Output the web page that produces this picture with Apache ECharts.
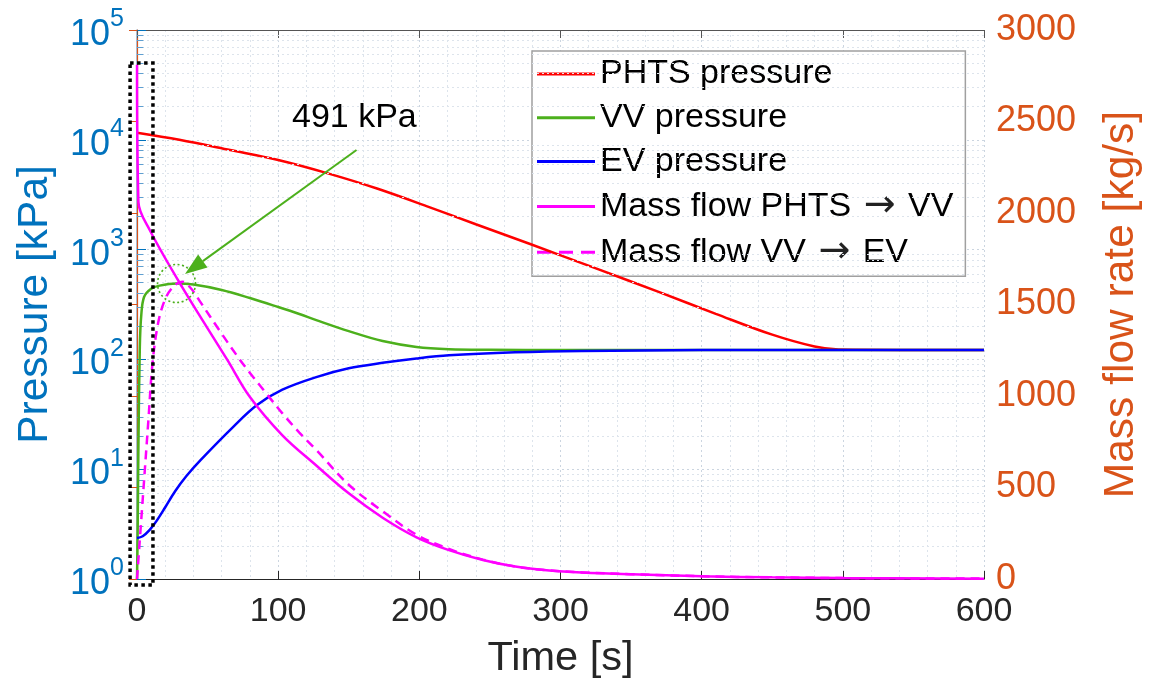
<!DOCTYPE html>
<html><head><meta charset="utf-8">
<script src="https://cdn.jsdelivr.net/npm/echarts@6/dist/echarts.min.js"></script>
<style>html,body{margin:0;padding:0;background:#fff}#c{width:1151px;height:687px}</style>
</head><body><div id="c"></div><script>
// ---- data ----
const seriesNames = ['PHTS pressure', 'VV pressure', 'EV pressure', 'Mass flow PHTS \u2192 VV', 'Mass flow VV \u2192 EV'];
const xTicks = [0, 100, 200, 300, 400, 500, 600];
const yLeftTicks = [1, 10, 100, 1000, 10000, 100000];
const yRightTicks = [0, 500, 1000, 1500, 2000, 2500, 3000];

const tPHTS = [0, 30, 66, 100, 134, 170, 207, 240, 278, 327, 370, 410, 450, 480, 497, 550, 600];
const pPHTS = [11600, 10000, 8070, 6550, 5000, 3600, 2440, 1700, 1130, 660, 410, 260, 168, 131, 123, 122, 122];

const tVV = [0, 0.5, 1, 2, 3, 5, 10, 16, 28, 40, 60, 80, 100, 115, 127, 150, 174, 198, 221, 250, 300, 400, 500, 600];
const pVV = [1, 3, 16, 130, 250, 370, 440, 470, 491, 481, 429, 362, 300, 259, 228, 181, 147, 130, 124, 122.5, 122, 122, 122, 122];

const tEV = [0, 4, 9, 14, 20, 27, 35, 45, 68, 85, 103, 127, 150, 174, 198, 221, 268, 315, 400, 500, 600];
const pEV = [2.36, 2.45, 2.8, 3.4, 4.5, 6.3, 8.67, 12.1, 24.2, 38.4, 53, 69, 83, 93, 102, 109, 116, 119.5, 121.5, 122, 122];

const tMF1 = [0, 1, 9, 32, 64, 80, 103, 127, 150, 174, 198, 221, 245, 268, 292, 315, 350, 400, 450, 500, 600];
const mMF1 = [2810, 2060, 1907, 1595, 1197, 994, 785, 620, 468, 335, 228, 158, 104, 68, 47, 36, 26, 15, 9, 5, 2];

const tMF2 = [0, 4, 8, 11, 15, 20, 26, 32, 38, 44, 60, 73, 80, 92, 103, 115, 127, 150, 174, 198, 221, 245, 268, 292, 315, 350, 400, 450, 500, 600];
const mMF2 = [0, 430, 860, 1180, 1400, 1530, 1600, 1625, 1590, 1524, 1340, 1197, 1126, 1010, 905, 800, 705, 515, 370, 242, 164, 106, 68, 47, 36, 26, 15, 9, 5, 2];

// annotation anchors in data space
const peakPoint = [28, 491];
const arrowFrom = [155.5, 8070];
const arrowTo = [34, 600];
const labelAt = [154, 15800];
const labelText = '491 kPa';
const boxCorners = [[-4.9, 50000], [11.3, 0.88]];

// log minor grid levels
const minorLevels = [];
for (let d = 0; d < 5; d++) for (let k = 2; k <= 9; k++) minorLevels.push(k * Math.pow(10, d));

const zip = (a, b) => a.map((v, i) => [v, b[i]]);
const FONT = 'Liberation Sans, Arial, Helvetica, sans-serif';
const BLUE = '#0072BD', ORANGE = '#D95319', DARK = '#262626';
const GREEN = '#4cb01c';
const solidIcon = 'path://M0,0H58V3H0Z';
const dashIcon = 'path://M0,0H14V3H0Z M22,0H36V3H22Z M44,0H58V3H44Z';

const chart = echarts.init(document.getElementById('c'), null, {renderer: 'canvas'});

const mk = (name, data, color, yIdx, dashed, z) => ({
  name, type: 'line', data, symbol: 'none', smooth: 0.35,
  yAxisIndex: yIdx, z: z,
  lineStyle: {color, width: 2.5, type: dashed ? [9, 6] : 'solid'},
  itemStyle: {color}
});

const option = {
  animation: false,
  textStyle: {fontFamily: FONT},
  grid: {left: 137, right: 166, top: 30, bottom: 108},
  legend: {
    data: seriesNames.map((n, i) => ({name: n, icon: i === 4 ? dashIcon : solidIcon})),
    orient: 'vertical', left: 532, top: 51, symbolKeepAspect: false,
    backgroundColor: '#fff', borderColor: '#a0a0a0', borderWidth: 1.5,
    padding: [5, 12, 5, 5], itemWidth: 58, itemHeight: 3, itemGap: 7.8,
    formatter: n => n.replace('\u2192', '{ar|\u2192}'),
    textStyle: {fontSize: 34, color: '#000', lineHeight: 36, fontFamily: FONT,
      rich: {ar: {fontFamily: 'DejaVu Sans', fontSize: 38, color: '#222', lineHeight: 36, padding: [0, 3, 0, 3]}}}
  },
  xAxis: [{
    type: 'value', min: 0, max: 600, interval: 100, position: 'bottom',
    name: 'Time [s]', nameLocation: 'middle', nameGap: 59,
    nameTextStyle: {fontSize: 41.5, color: DARK, fontFamily: FONT},
    axisLine: {lineStyle: {color: DARK, width: 1.2}},
    axisTick: {inside: true, length: 8, lineStyle: {color: DARK}},
    axisLabel: {fontSize: 34, color: DARK, margin: 16, fontFamily: FONT,
      formatter: v => xTicks.indexOf(v) >= 0 ? String(v) : ''},
    splitLine: {show: true, lineStyle: {color: '#cbd5e0', type: [2, 3], width: 1}},
    minorTick: {show: false, splitNumber: 5},
    minorSplitLine: {show: true, lineStyle: {color: '#dde4ec', type: [2, 3], width: 1}}
  }, {
    type: 'value', min: 0, max: 600, interval: 100, position: 'top',
    axisLine: {show: true, lineStyle: {color: '#555', width: 1}},
    axisTick: {show: true, inside: true, length: 8, lineStyle: {color: '#555'}},
    axisLabel: {show: false}, splitLine: {show: false}
  }],
  yAxis: [{
    type: 'log', logBase: 10, min: 1, max: 100000, position: 'left',
    name: 'Pressure [kPa]', nameLocation: 'middle', nameRotate: 90, nameGap: 80,
    nameTextStyle: {fontSize: 42.5, color: BLUE, fontFamily: FONT},
    axisLine: {show: true, lineStyle: {color: '#86b9df', width: 1.5}},
    axisTick: {show: true, inside: true, length: 9, lineStyle: {color: BLUE}},
    axisLabel: {
      margin: 13,
      formatter: v => {
        const e = Math.round(Math.log10(v));
        return yLeftTicks.indexOf(Math.pow(10, e)) >= 0 ? '{b|10}{e|' + e + '}' : '';
      },
      rich: {
        b: {fontSize: 36, color: BLUE, fontFamily: FONT, lineHeight: 46, verticalAlign: 'bottom'},
        e: {fontSize: 25, color: BLUE, fontFamily: FONT, lineHeight: 24, verticalAlign: 'top'}
      }
    },
    splitLine: {show: true, lineStyle: {color: '#cbd5e0', type: [2, 3], width: 1}}
  }, {
    type: 'value', min: 0, max: 3000, interval: 500, position: 'right',
    name: 'Mass flow rate [kg/s]', nameLocation: 'middle', nameRotate: 90, nameGap: 116,
    nameTextStyle: {fontSize: 42.5, color: ORANGE, fontFamily: FONT},
    axisLine: {show: true, lineStyle: {color: ORANGE, width: 1.2}},
    axisTick: {show: true, inside: true, length: 8, lineStyle: {color: ORANGE}},
    axisLabel: {fontSize: 36, color: ORANGE, margin: 12, fontFamily: FONT,
      formatter: v => yRightTicks.indexOf(v) >= 0 ? String(v) : ''},
    splitLine: {show: false}
  }],
  series: [
    {type: 'line', data: [], yAxisIndex: 0, silent: true, z: 1,
     markLine: {silent: true, symbol: 'none', label: {show: false}, animation: false,
       lineStyle: {color: '#dde4ec', type: [2, 3], width: 1},
       data: minorLevels.map(v => ({yAxis: v}))}},
    {type: 'line', data: [], yAxisIndex: 0, silent: true, z: 3,
     markLine: {silent: true, symbol: 'none', label: {show: false}, animation: false,
       lineStyle: {color: '#5f9fd1', type: 'solid', width: 1},
       data: minorLevels.map(v => [{coord: [0, v]}, {coord: [4.5, v]}])}},
    mk(seriesNames[0], zip(tPHTS, pPHTS), '#ff0000', 0, false, 4),
    mk(seriesNames[1], zip(tVV, pVV), GREEN, 0, false, 5),
    mk(seriesNames[2], zip(tEV, pEV), '#0000ff', 0, false, 6),
    mk(seriesNames[3], zip(tMF1, mMF1), '#ff00ff', 1, false, 7),
    mk(seriesNames[4], zip(tMF2, mMF2), '#ff00ff', 1, true, 7)
  ]
};
chart.setOption(option);

// annotations positioned through the chart's own scales
const px = d => chart.convertToPixel({xAxisIndex: 0, yAxisIndex: 0}, d);
const b0 = px(boxCorners[0]), b1 = px(boxCorners[1]);
const c = px(peakPoint);
const a0 = px(arrowFrom), a1 = px(arrowTo);
const lt = px(labelAt);
const dx = a1[0] - a0[0], dy = a1[1] - a0[1];
const len = Math.hypot(dx, dy), ux = dx / len, uy = dy / len;
const headL = 22, headW = 8;
const base = [a1[0] - ux * headL, a1[1] - uy * headL];
const nx = -uy, ny = ux;

chart.setOption({
  graphic: [
    {type: 'rect', z: 20, shape: {x: Math.min(b0[0], b1[0]), y: Math.min(b0[1], b1[1]),
      width: Math.abs(b1[0] - b0[0]), height: Math.abs(b1[1] - b0[1])},
     style: {fill: 'none', stroke: '#000', lineWidth: 3.5, lineDash: [3.5, 3.5]}},
    {type: 'circle', z: 20, shape: {cx: c[0], cy: c[1], r: 19},
     style: {fill: 'none', stroke: GREEN, lineWidth: 1.6, lineDash: [2, 2.5]}},
    {type: 'line', z: 20, shape: {x1: a0[0], y1: a0[1], x2: base[0], y2: base[1]},
     style: {stroke: GREEN, lineWidth: 2}},
    {type: 'polygon', z: 20, shape: {points: [a1,
      [base[0] + nx * headW, base[1] + ny * headW],
      [base[0] - nx * headW, base[1] - ny * headW]]},
     style: {fill: GREEN}},
    {type: 'text', z: 20, x: lt[0], y: lt[1],
     style: {text: labelText, fontSize: 34, fontFamily: FONT, fill: '#000', align: 'center', verticalAlign: 'middle'}}
  ]
});
</script></body></html>
